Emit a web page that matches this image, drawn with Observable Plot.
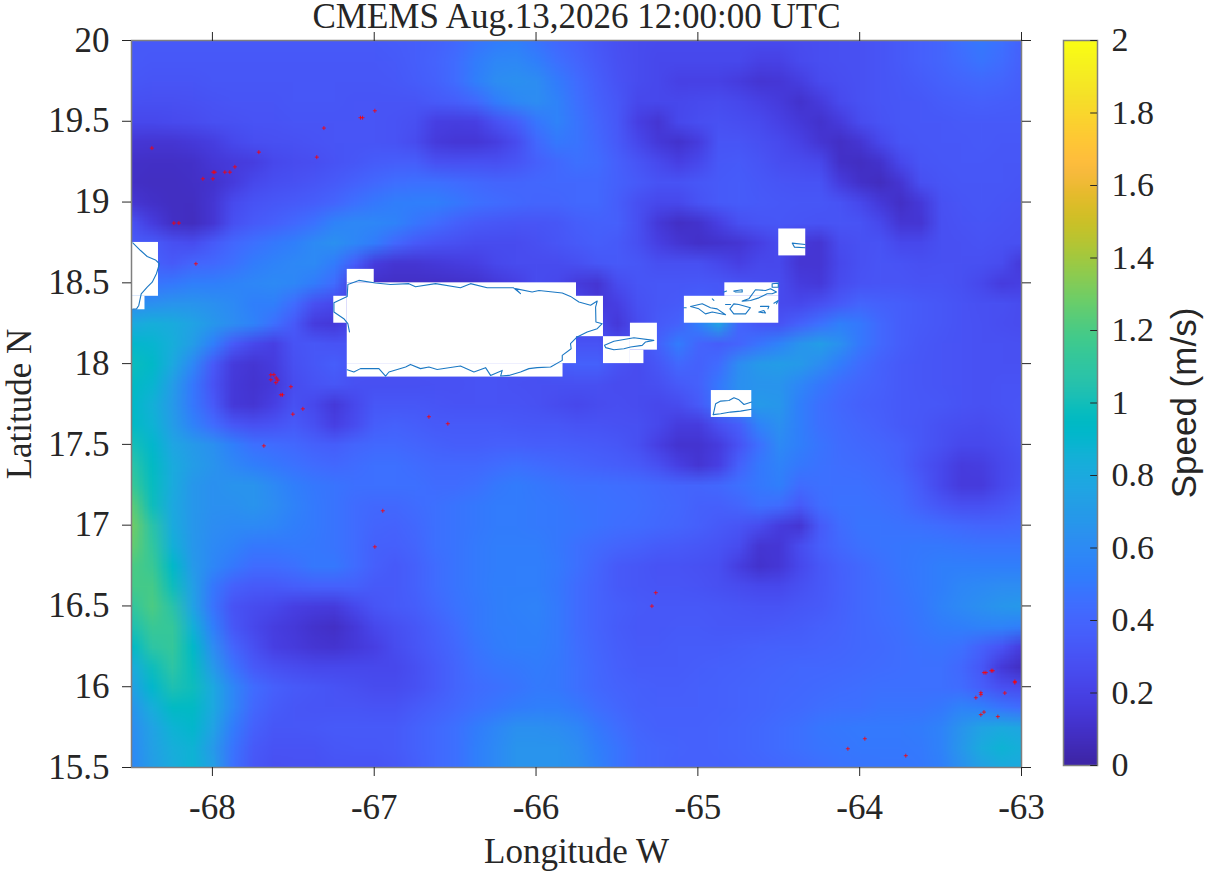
<!DOCTYPE html>
<html><head><meta charset="utf-8">
<script src="https://cdn.jsdelivr.net/npm/d3@7"></script>
<script src="https://cdn.jsdelivr.net/npm/@observablehq/plot@0.6"></script>
<style>html,body{margin:0;padding:0;background:#fff}#wrap{position:relative;width:1206px;height:873px;overflow:hidden}#wrap svg{position:absolute;top:0;overflow:visible}</style>
</head><body><div id="wrap"></div>
<script>
const lonTicks=[-68,-67,-66,-65,-64,-63];
const latTicks=[15.5,16,16.5,17,17.5,18,18.5,19,19.5,20];
const barTicks=[0,0.2,0.4,0.6,0.8,1,1.2,1.4,1.6,1.8,2];
// speed in cm/s; rows from 20N down to 15.5N and columns from 68.5W to 63W, both in 1/8 degree steps
const r00=[30,30,30,30,30,30,30,30,30,30,30,30,30,31,32,34,38,44,48,50,44,38,33,28,24,22,21,21,21,21,21,21,21,22,23,24,25,27,30,33,36,42,46,42,34];
const r01=[30,29,29,29,29,29,29,29,29,29,29,29,29,30,32,35,40,48,54,55,50,42,36,30,25,22,20,20,20,20,20,19,19,21,23,24,25,27,30,33,36,40,44,40,33];
const r02=[28,27,27,27,28,28,28,28,28,28,28,28,28,29,31,34,40,50,58,60,58,48,40,32,26,22,20,19,19,19,16,12,13,17,21,23,25,27,29,31,34,36,38,36,32];
const r03=[25,24,24,25,26,27,27,27,28,28,28,27,27,27,27,30,32,38,48,55,58,52,42,34,28,20,20,20,21,22,20,19,15,10,15,21,25,27,28,29,31,32,33,32,31];
const r04=[20,20,21,22,24,25,26,26,27,27,27,27,27,26,24,18,17,18,25,32,45,52,44,36,29,18,12,20,23,25,23,21,19,14,10,15,22,26,28,29,29,30,30,30,30];
const r05=[13,12,12,14,17,20,23,24,25,26,27,27,27,26,22,15,13,13,17,22,38,46,44,38,30,20,14,10,16,27,27,24,21,19,12,8,12,20,27,28,29,29,30,29,29];
const r06=[9,8,8,9,13,15,17,20,22,23,26,28,31,32,32,25,24,25,24,27,33,38,42,40,33,27,21,18,20,29,30,27,23,22,20,9,7,10,20,27,28,29,29,28,28];
const r07=[8,7,7,8,10,15,20,23,25,27,30,34,38,41,42,42,40,38,36,36,37,38,38,38,34,30,26,26,28,30,31,29,27,26,26,16,9,6,12,24,27,28,28,28,27];
const r08=[12,9,7,7,12,21,26,28,30,32,36,42,46,49,50,50,46,42,40,38,36,36,38,38,32,24,20,20,26,30,31,30,29,28,28,26,20,14,8,14,25,27,28,27,26];
const r09=[25,16,8,6,12,24,30,33,38,43,52,55,54,52,45,40,34,30,28,27,27,28,32,34,33,24,14,8,10,18,24,27,28,27,26,27,26,20,12,12,24,26,27,26,25];
const r10=[30,30,24,22,30,37,42,46,50,56,60,54,48,38,30,26,24,22,22,22,24,27,30,32,30,24,18,12,9,10,12,18,22,14,12,22,25,26,20,20,24,25,26,25,24];
const r11=[34,34,30,36,38,42,48,52,55,56,48,32,16,12,12,14,16,18,20,22,22,22,24,28,30,28,24,24,24,20,18,20,20,12,12,20,25,27,26,24,25,25,24,22,14];
const r12=[44,44,46,50,50,52,54,56,54,48,40,16,9,8,8,8,9,10,14,18,22,20,15,12,22,27,28,28,29,28,26,23,22,16,14,22,26,27,27,26,26,24,20,16,18];
const r13=[58,60,62,62,60,56,50,50,40,24,20,20,20,20,20,20,20,20,20,20,20,20,20,14,18,25,28,30,34,30,26,23,21,20,24,30,36,34,32,30,28,26,24,24,22];
const r14=[76,80,78,72,64,58,52,42,30,16,14,20,20,20,20,20,20,20,20,20,20,20,20,20,14,22,30,34,50,72,36,28,26,34,42,50,46,38,32,30,28,26,25,23,22];
const r15=[88,86,80,68,50,30,20,18,26,28,26,26,26,26,26,26,26,26,26,26,26,26,26,26,22,24,34,48,36,32,36,44,52,62,68,60,46,38,32,29,27,26,25,25,24];
const r16=[95,90,76,55,30,15,12,16,24,28,32,26,26,26,26,26,26,26,26,26,26,30,34,34,26,22,28,38,34,40,58,66,68,66,58,48,40,34,30,28,27,26,25,25,25];
const r17=[92,86,68,46,26,14,11,14,22,26,28,25,24,24,24,25,25,26,26,25,24,24,24,24,22,22,24,30,34,46,60,62,62,54,46,40,36,33,30,28,27,26,25,26,26];
const r18=[90,82,66,46,30,14,12,18,25,20,14,20,28,28,28,27,26,26,26,26,25,22,20,22,23,22,20,22,30,44,58,66,64,50,42,37,34,32,30,29,28,26,25,26,27];
const r19=[92,84,68,52,40,28,24,26,30,24,18,22,32,34,32,30,30,30,30,29,28,28,26,26,25,24,20,16,16,24,32,52,60,50,42,39,36,33,30,28,25,23,22,24,27];
const r20=[98,88,74,66,60,50,42,40,38,34,32,36,38,38,36,34,32,32,33,33,32,32,31,30,28,24,18,11,11,16,26,42,56,50,44,40,38,36,33,28,24,20,20,22,26];
const r21=[105,92,78,68,62,55,50,46,43,40,38,40,42,42,40,38,38,38,40,42,40,38,36,34,32,30,24,18,12,18,34,46,52,46,43,41,40,38,34,26,20,16,17,20,24];
const r22=[112,94,78,64,60,62,62,56,50,46,44,42,42,42,42,40,40,42,46,48,46,44,42,42,41,40,38,36,36,38,42,46,50,40,42,42,42,40,38,30,20,15,15,20,26];
const r23=[122,96,76,64,60,60,62,58,52,47,44,40,38,38,40,42,44,46,48,48,47,46,44,43,42,41,39,37,34,33,36,42,40,30,40,43,43,42,40,34,28,24,24,27,32];
const r24=[127,104,78,64,58,56,56,54,50,47,44,40,36,35,38,42,44,46,48,48,47,46,45,43,41,40,38,36,33,30,27,22,16,12,30,40,44,44,43,42,40,38,36,36,38];
const r25=[124,108,82,64,56,52,46,46,47,46,44,40,34,33,36,42,44,47,49,49,49,46,42,39,36,34,31,30,28,26,22,12,13,22,32,38,42,44,45,46,46,45,44,44,44];
const r26=[118,112,90,66,54,46,40,40,42,46,46,40,33,30,34,40,44,47,49,50,50,47,42,36,30,28,26,26,25,23,17,10,13,20,28,34,38,42,45,47,50,50,50,50,50];
const r27=[116,116,96,70,46,34,30,30,32,34,34,34,30,30,34,40,44,47,50,50,50,46,40,35,30,28,27,27,26,24,22,20,20,24,29,33,38,41,44,47,50,54,56,58,58];
const r28=[108,118,104,72,44,26,22,20,18,16,15,20,27,30,32,38,43,46,49,51,52,47,40,35,32,30,29,29,29,28,27,26,26,28,30,34,38,41,43,46,52,56,60,63,65];
const r29=[100,112,110,82,50,28,20,17,14,10,8,14,20,24,28,34,40,46,49,50,51,47,40,35,31,29,29,30,30,29,29,29,30,31,33,35,38,40,42,45,48,50,52,52,50];
const r30=[90,106,110,90,58,36,24,18,15,12,11,14,18,22,27,32,38,44,48,50,50,47,41,36,32,30,30,31,31,31,32,33,34,34,35,36,38,39,41,43,44,42,34,26,16];
const r31=[78,96,106,94,66,44,30,25,22,20,20,20,20,20,24,30,36,42,45,46,48,46,42,37,33,31,31,31,32,33,34,35,36,37,37,38,39,40,41,42,42,38,28,14,7];
const r32=[70,88,100,96,76,54,40,33,30,28,26,24,22,22,25,30,36,40,42,44,47,46,42,38,35,33,32,32,33,34,35,36,37,38,39,40,41,42,42,42,42,40,32,24,22];
const r33=[62,80,92,92,76,54,38,31,28,27,27,27,26,26,30,34,38,42,45,48,50,50,46,41,37,34,33,33,33,34,35,36,38,39,41,42,42,44,44,44,46,52,50,44,40];
const r34=[58,72,84,88,72,48,34,28,28,29,30,30,30,30,34,38,42,48,54,60,60,58,54,46,41,36,34,34,34,35,36,38,40,42,45,46,47,47,47,48,52,62,72,76,74];
const r35=[56,70,80,84,66,44,30,26,26,26,28,29,29,30,34,38,42,50,56,62,62,62,58,50,44,38,36,35,34,35,36,38,40,42,44,45,46,46,46,47,52,64,78,84,80];
const r36=[55,68,78,84,70,42,28,24,25,25,26,26,26,28,32,38,42,50,56,62,62,62,60,52,44,38,36,34,34,34,35,36,37,39,41,43,44,45,45,46,50,60,70,76,76];
const speed=[r00,r01,r02,r03,r04,r05,r06,r07,r08,r09,r10,r11,r12,r13,r14,r15,r16,r17,r18,r19,r20,r21,r22,r23,r24,r25,r26,r27,r28,r29,r30,r31,r32,r33,r34,r35,r36].flat().map(v=>(v<20?v:v+3)/100);
// land-masked grid cells
const maskW=[-68.5,-68.5,-67.1667,-67.1667,-67.1667,-67.25,-65.75,-65.4167,-65.5833,-65.4167,-65.0833,-64.8333,-64.5,-64.9167];
const maskE=[-68.3333,-68.4167,-67,-65.75,-65.8333,-67.1667,-65.5833,-65.25,-65.4167,-65.3333,-64.5,-64.5,-64.3333,-64.6667];
const maskN=[18.75,18.4167,18.5833,18.5,18,18.4167,18.4167,18.25,18.1667,18.0833,18.4167,18.5,18.8333,17.8333];
const maskS=[18.4167,18.3333,18.5,18,17.9167,18.25,18.1667,18.0833,18,18,18.25,18.4167,18.6667,17.6667];
// coastlines [lon, lat]
const puertoRico=[[-67.153,18.196],[-67.163,18.247],[-67.188,18.278],[-67.249,18.319],[-67.249,18.377],[-67.167,18.416],[-67.163,18.490],[-67.095,18.515],[-66.992,18.499],[-66.899,18.490],[-66.786,18.495],[-66.745,18.476],[-66.621,18.495],[-66.467,18.470],[-66.405,18.495],[-66.302,18.470],[-66.178,18.470],[-66.141,18.470],[-66.096,18.433],[-66.127,18.464],[-66.024,18.443],[-65.982,18.453],[-65.838,18.437],[-65.787,18.416],[-65.735,18.381],[-65.663,18.361],[-65.622,18.387],[-65.632,18.350],[-65.630,18.257],[-65.591,18.247],[-65.622,18.216],[-65.684,18.196],[-65.746,18.165],[-65.787,18.123],[-65.783,18.092],[-65.838,18.051],[-65.838,18.020],[-65.910,17.979],[-65.993,17.975],[-66.044,17.969],[-66.096,17.948],[-66.168,17.927],[-66.219,17.923],[-66.209,17.958],[-66.281,17.927],[-66.312,17.975],[-66.384,17.948],[-66.467,17.985],[-66.611,17.964],[-66.662,17.979],[-66.714,17.969],[-66.776,17.995],[-66.806,17.979],[-66.909,17.948],[-66.930,17.923],[-66.971,17.969],[-67.033,17.969],[-67.085,17.969],[-67.126,17.948],[-67.167,17.962]];
const vieques=[[-65.577,18.113],[-65.519,18.138],[-65.395,18.160],[-65.272,18.144],[-65.323,18.134],[-65.344,18.113],[-65.416,18.103],[-65.457,18.092],[-65.519,18.086],[-65.570,18.099],[-65.577,18.113]];
const stThomas=[[-65.045,18.354],[-64.973,18.370],[-64.922,18.346],[-64.881,18.339],[-64.829,18.302],[-64.911,18.319],[-64.953,18.308],[-64.994,18.339],[-65.045,18.354]];
const stJohn=[[-64.802,18.339],[-64.778,18.370],[-64.747,18.366],[-64.675,18.346],[-64.705,18.308],[-64.778,18.308],[-64.802,18.339]];
const tortola=[[-64.726,18.387],[-64.685,18.401],[-64.644,18.457],[-64.582,18.453],[-64.551,18.463],[-64.514,18.443],[-64.541,18.432],[-64.572,18.432],[-64.623,18.407],[-64.675,18.391],[-64.726,18.387]];
const smallIslands=[
 [[-64.778,18.449],[-64.726,18.457],[-64.726,18.443],[-64.767,18.443],[-64.778,18.449]],
 [[-64.911,18.401],[-64.901,18.391]],
 [[-64.623,18.319],[-64.592,18.329],[-64.582,18.313],[-64.623,18.319]],
 [[-64.613,18.354],[-64.561,18.354],[-64.567,18.339]],
 [[-64.530,18.374],[-64.503,18.391],[-64.514,18.370]],
 [[-64.541,18.494],[-64.503,18.498],[-64.503,18.473],[-64.541,18.473],[-64.541,18.494]],
 [[-64.839,18.443],[-64.823,18.449]],
 [[-64.829,18.366],[-64.798,18.366]],
 [[-65.087,18.346],[-65.072,18.346]]
];
const anegada=[[-64.337,18.737],[-64.417,18.746],[-64.403,18.721],[-64.337,18.717]];
const hispaniola=[[-68.492,18.748],[-68.444,18.700],[-68.403,18.663],[-68.352,18.642],[-68.327,18.618],[-68.346,18.556],[-68.372,18.504],[-68.403,18.473],[-68.440,18.432],[-68.455,18.360],[-68.469,18.339],[-68.492,18.337]];
const stCroix=[[-64.905,17.684],[-64.890,17.752],[-64.859,17.768],[-64.808,17.772],[-64.777,17.789],[-64.746,17.776],[-64.715,17.747],[-64.668,17.762]];
const stCroixSouth=[[-64.668,17.717],[-64.736,17.706],[-64.798,17.700],[-64.859,17.690],[-64.905,17.684]];
// red markers
const drifterLon=[-68.374,-67.713,-67.311,-67.085,-67.072,-66.996,-67.355,-67.861,-67.995,-67.985,-67.923,-67.892,-68.059,-67.997,-68.238,-68.207,-68.102,-67.639,-67.620,-67.606,-67.596,-67.639,-67.608,-67.515,-67.577,-67.567,-67.503,-67.441,-67.682,-66.662,-66.545,-66.947,-66.996,-65.260,-65.284,-63.232,-63.220,-63.187,-63.177,-63.041,-63.041,-63.103,-63.251,-63.251,-63.282,-63.232,-63.251,-63.146,-63.968,-64.073,-63.715];
const drifterLat=[19.334,19.309,19.458,19.522,19.522,19.565,19.278,19.218,19.185,19.185,19.185,19.185,19.144,19.144,18.870,18.870,18.618,17.931,17.931,17.911,17.898,17.900,17.882,17.857,17.807,17.807,17.687,17.720,17.491,17.671,17.628,17.089,16.866,16.582,16.499,16.087,16.087,16.099,16.099,16.033,16.025,15.961,15.963,15.951,15.932,15.843,15.827,15.815,15.678,15.616,15.573];
const parula=[[.2422,.1504,.6603],[.2504,.165,.7076],[.2578,.1818,.7511],[.2647,.1978,.7952],[.2706,.2147,.8364],[.2751,.2342,.871],[.2783,.2559,.8991],[.2803,.2782,.9221],[.2813,.3006,.9414],[.281,.3228,.9579],[.2795,.3447,.9717],[.276,.3667,.9829],[.2699,.3892,.9906],[.2602,.4123,.9952],[.244,.4358,.9988],[.2206,.4603,.9973],[.1963,.4847,.9892],[.1834,.5074,.9798],[.1786,.5289,.9682],[.1764,.5499,.952],[.1687,.5703,.9359],[.154,.5902,.9218],[.146,.6091,.9079],[.138,.6276,.8973],[.1248,.6459,.8883],[.1113,.6635,.8763],[.0952,.6798,.8598],[.0689,.6948,.8394],[.0297,.7082,.8163],[.0036,.7203,.7917],[.0067,.7312,.766],[.0433,.7411,.7394],[.0964,.75,.712],[.1408,.7584,.6842],[.1717,.767,.6554],[.1938,.7758,.6251],[.2161,.7843,.5923],[.247,.7918,.5567],[.2906,.7973,.5188],[.3406,.8008,.4789],[.3909,.8029,.4354],[.4456,.8024,.3909],[.5044,.7993,.348],[.5616,.7942,.3045],[.6174,.7876,.2612],[.672,.7793,.2227],[.7242,.7698,.191],[.7738,.7598,.1646],[.8203,.7498,.1535],[.8634,.7406,.1596],[.9035,.733,.1774],[.9393,.7288,.21],[.9728,.7298,.2394],[.9956,.7434,.2371],[.997,.7659,.2199],[.9952,.7893,.2028],[.9892,.8136,.1885],[.9786,.8386,.1766],[.9676,.8639,.1643],[.961,.889,.1537],[.9597,.9135,.1423],[.9628,.9373,.1265],[.9691,.9606,.1064],[.9769,.9839,.0805]];
const parulaCss=parula.map(([r,g,b])=>`rgb(${Math.round(r*255)},${Math.round(g*255)},${Math.round(b*255)})`);
const colorOpts={type:"linear",domain:[0,2],interpolate:d3.piecewise(d3.interpolateRgb,parulaCss),clamp:true};
const serif="'Liberation Serif',serif", tickFont=35, ink="#262626", coastColor="#1b78c4";
const coasts=[puertoRico,vieques,stThomas,stJohn,tortola,...smallIslands,anegada,hispaniola,stCroix,stCroixSouth];
const coastMarks=coasts.map(c=>Plot.line(c,{x:d=>d[0],y:d=>d[1],stroke:coastColor,strokeWidth:1.1,curve:"linear"}));
const main=Plot.plot({
  width:1040,height:873,marginLeft:131,marginRight:19,marginTop:40,marginBottom:106,
  style:{background:"transparent",overflow:"visible"},
  x:{domain:[-68.5,-63]},y:{domain:[15.5,20]},color:colorOpts,
  marks:[
    Plot.raster(speed,{width:45,height:37,x1:-68.5625,x2:-62.9375,y1:20.0625,y2:15.4375,fill:d=>d,clip:true,imageRendering:"auto"}),
    Plot.rect(maskW,{x1:(d,i)=>maskW[i],x2:(d,i)=>maskE[i],y1:(d,i)=>maskN[i],y2:(d,i)=>maskS[i],fill:"white"}),
    ...coastMarks,
    Plot.dot(drifterLon,{x:(d,i)=>drifterLon[i],y:(d,i)=>drifterLat[i],symbol:"plus",r:1.4,stroke:"#ff0000",strokeWidth:.8}),
    Plot.frame({stroke:"#7f7f7f",strokeWidth:1.5}),
    Plot.axisX({anchor:"bottom",ticks:lonTicks,tickSize:9,tickPadding:18,label:null,tickFormat:d=>String(d),fontFamily:serif,fontSize:tickFont,fill:ink,stroke:ink}),
    Plot.axisX({anchor:"top",ticks:lonTicks,tickSize:9,label:null,tickFormat:()=>"",stroke:ink}),
    Plot.axisY({anchor:"left",ticks:latTicks,tickSize:9,tickPadding:13,label:null,tickFormat:d=>String(d),fontFamily:serif,fontSize:tickFont,fill:ink,stroke:ink}),
    Plot.axisY({anchor:"right",ticks:latTicks,tickSize:9,label:null,tickFormat:()=>"",stroke:ink}),
    Plot.text(["CMEMS Aug.13,2026 12:00:00 UTC"],{frameAnchor:"top",dy:-37,fontFamily:serif,fontSize:35,fill:ink}),
    Plot.text(["Longitude W"],{frameAnchor:"bottom",dy:95,fontFamily:serif,fontSize:35,fill:ink}),
    Plot.text(["Latitude N"],{frameAnchor:"left",dx:-112,rotate:-90,textAnchor:"middle",fontFamily:serif,fontSize:35,fill:ink})
  ]
});
const barLevels=d3.range(64).map(i=>(63-i)/63*2);
const bar=Plot.plot({
  width:166,height:873,marginLeft:23,marginRight:109,marginTop:40,marginBottom:108,
  style:{background:"transparent",overflow:"visible"},
  x:{domain:[0,1],axis:null},y:{domain:[0,2]},color:colorOpts,
  marks:[
    Plot.raster(barLevels,{width:1,height:64,x1:0,x2:1,y1:2,y2:0,fill:d=>d,imageRendering:"auto"}),
    Plot.frame({stroke:"#7f7f7f",strokeWidth:1.5}),
    Plot.ruleY(barTicks,{x1:0.8,x2:1,stroke:ink}),
    Plot.axisY({anchor:"right",ticks:barTicks,tickSize:0,tickPadding:14,label:null,tickFormat:d=>String(d),fontFamily:serif,fontSize:34,fill:ink}),
    Plot.text(["Speed (m/s)"],{frameAnchor:"right",dx:87,rotate:-90,textAnchor:"middle",fontFamily:"'Liberation Sans',sans-serif",fontSize:35,fill:ink})
  ]
});
const wrap=document.getElementById("wrap");
main.style.left="0px";bar.style.left="1040px";
wrap.append(main,bar);
</script></body></html>
